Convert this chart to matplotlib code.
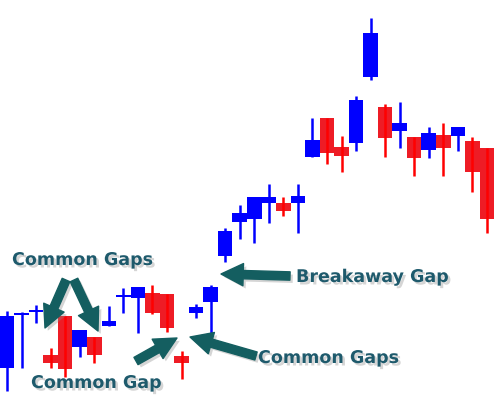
import matplotlib
matplotlib.use("Agg")
import matplotlib.pyplot as plt
import matplotlib.patheffects as pe
from matplotlib.patches import FancyArrowPatch

# OHLC values (arbitrary price units)
opens  = [32, 85, 88, 45, 84, 53, 63, 74, 103, 102, 107, 106, 44, 87, 98,
          144, 178, 181, 197, 197, 197, 243, 282, 253, 257, 323, 293, 269,
          263, 250, 265, 264, 259, 252]
closes = [84, 87, 90, 37, 31, 70, 45, 79, 105, 113, 87, 72, 37, 93, 113,
          169, 187, 203, 203, 189, 204, 260, 247, 244, 300, 367, 262, 277,
          242, 267, 252, 273, 228, 181]
highs  = [89, 88, 95, 52, 84, 70, 63, 94, 112, 113, 115, 106, 49, 96, 115,
          172, 195, 203, 216, 203, 216, 282, 282, 264, 304, 382, 296, 298,
          263, 273, 277, 273, 263, 252]
lows   = [9, 32, 77, 32, 23, 43, 37, 74, 87, 67, 86, 68, 21, 82, 67,
          138, 161, 157, 177, 184, 167, 243, 236, 228, 249, 320, 243, 252,
          224, 242, 224, 249, 208, 167]

labels = ["Common Gaps", "Common Gap", "Breakaway Gap", "Common Gaps"]

UP_BODY, UP_WICK = "#0000FF", "#0000FF"
DN_BODY, DN_WICK = "#EE1C25", "#FF0000"
TEXT_C = "#1E5A6C"
ARROW_C = "#145E60"

fig = plt.figure(figsize=(4.98, 4.0), dpi=100)
ax = fig.add_axes([0, 0, 1, 1])
ax.set_xlim(-0.48, 33.76)
ax.set_ylim(0, 400)
ax.axis("off")

x = list(range(len(opens)))
for i, o, c, h, l in zip(x, opens, closes, highs, lows):
    up = c >= o
    bc = UP_BODY if up else DN_BODY
    wc = UP_WICK if up else DN_WICK
    bottom = min(o, c)
    height = max(abs(c - o), 2)
    ax.bar(i, height, bottom=bottom, width=1.0, color=bc, edgecolor="none",
           zorder=2)
    ax.vlines(i, l, h, color=wc, linewidth=1.8, zorder=3)

shadow_txt = [pe.SimplePatchShadow(offset=(1.8, -1.8), shadow_rgbFace="#888888",
                                   alpha=0.35), pe.Normal()]
shadow_arr = [pe.SimplePatchShadow(offset=(2, -2), shadow_rgbFace="#888888",
                                   alpha=0.35), pe.Normal()]

def px(xp, yp):
    # convert pixel position of the picture into axes fraction
    return (xp / 498.0, 1 - yp / 400.0)

def arrow(tail, tip):
    a = FancyArrowPatch(px(*tail), px(*tip), transform=ax.transAxes,
                        arrowstyle="simple,head_length=1.6,head_width=1.6,tail_width=0.6",
                        mutation_scale=10, color=ARROW_C, zorder=5,
                        shrinkA=0, shrinkB=0)
    a.set_path_effects(shadow_arr)
    ax.add_patch(a)

def label(text, xp, yp):
    t = ax.text(*px(xp, yp), text, transform=ax.transAxes, ha="left",
                va="center", fontsize=12.6, fontweight="bold",
                family="DejaVu Sans", color=TEXT_C, zorder=6)
    t.set_path_effects(shadow_txt)

label(labels[0], 12, 260)
label(labels[1], 31, 383)
label(labels[2], 296, 277)
label(labels[3], 258, 358)

arrow((66, 280), (45, 328))
arrow((74, 280), (98, 331))
arrow((136, 361), (177, 338))
arrow((256, 356), (190, 337))
arrow((290, 276), (221, 274))

fig.savefig("out.png", dpi=100)
